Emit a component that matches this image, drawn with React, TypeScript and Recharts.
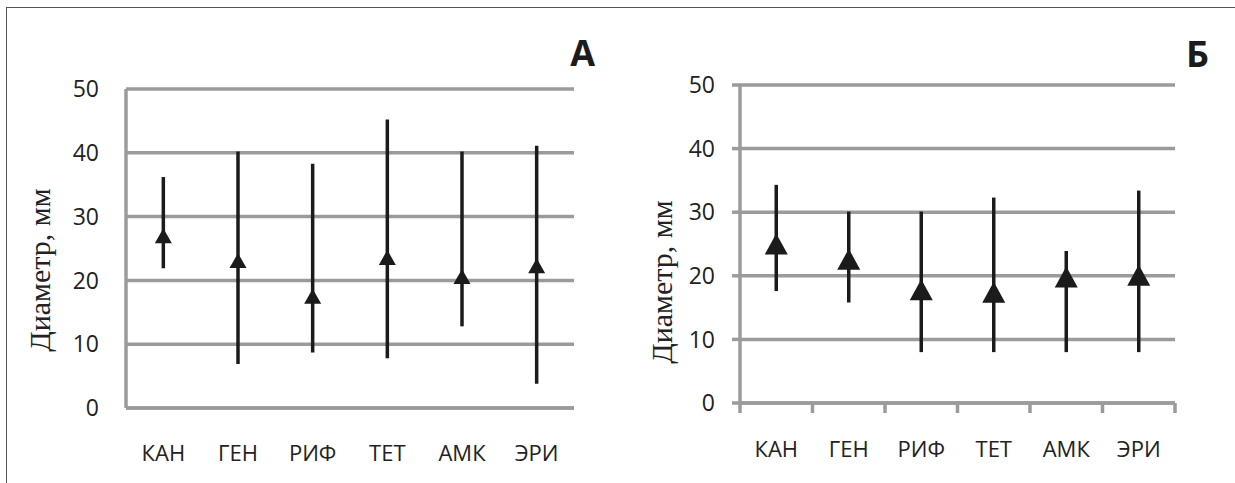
import React from 'react';
import { ScatterChart, Scatter, ErrorBar, XAxis, YAxis, CartesianGrid } from 'recharts';

// ---- data ----
const categories = ['КАН', 'ГЕН', 'РИФ', 'ТЕТ', 'АМК', 'ЭРИ'];

const meanA = [27.0, 23.1, 17.5, 23.6, 20.6, 22.3];
const minA = [21.9, 6.9, 8.7, 7.8, 12.8, 3.8];
const maxA = [36.2, 40.2, 38.3, 45.2, 40.2, 41.1];

const meanB = [25.0, 22.6, 17.8, 17.4, 19.8, 20.1];
const minB = [17.6, 15.8, 8.0, 8.0, 8.0, 8.0];
const maxB = [34.3, 30.1, 30.1, 32.3, 23.9, 33.4];

const yTicks = [0, 10, 20, 30, 40, 50];

const GRID = '#9b9b9b';
const INK = '#1b1b1b';
const SANS = '"Open Sans", "Noto Sans", sans-serif';
const SERIF = '"Liberation Serif", "DejaVu Serif", serif';

function buildRows(mean: number[], min: number[], max: number[]) {
  return categories.map((name, i) => ({
    x: i + 0.5,
    name,
    mean: mean[i],
    err: [mean[i] - min[i], max[i] - mean[i]],
  }));
}

// x ticks: band edges (integers) and band centres (halves)
const xTicks = categories.flatMap((_, i) => [i, i + 0.5]).concat(categories.length);

interface PanelProps {
  mean: number[];
  min: number[];
  max: number[];
  width: number;
  top: number;
  right: number;
  axisWidth: number;
  xAxisHeight: number;
  triW: number;
  triH: number;
  edgeTicks: boolean;
  labelOffset: number;
}

function Panel(p: PanelProps) {
  const rows = buildRows(p.mean, p.min, p.max);

  const Triangle = (props: any) => {
    const { cx, cy } = props;
    if (cx == null || cy == null) return null;
    const hw = p.triW / 2;
    const hh = p.triH / 2;
    return (
      <polygon
        points={`${cx},${cy - hh} ${cx + hw},${cy + hh} ${cx - hw},${cy + hh}`}
        fill={INK}
      />
    );
  };

  const XTick = (props: any) => {
    const { x, y, payload } = props;
    const v = payload.value as number;
    if (Number.isInteger(v)) {
      if (!p.edgeTicks) return <g />;
      return <line x1={x} x2={x} y1={y} y2={y + 10} stroke={GRID} strokeWidth={3.5} />;
    }
    return (
      <text
        x={x}
        y={y + p.labelOffset}
        textAnchor="middle"
        dominantBaseline="central"
        fill="#222"
        fontSize={22}
        fontFamily={SANS}
      >
        {categories[Math.floor(v)]}
      </text>
    );
  };

  return (
    <ScatterChart
      width={p.width}
      height={483}
      margin={{ top: p.top, right: p.right, bottom: 0, left: 0 }}
    >
      <CartesianGrid vertical={false} stroke={GRID} strokeWidth={3.5} />
      <XAxis
        type="number"
        dataKey="x"
        domain={[0, categories.length]}
        ticks={xTicks}
        interval={0}
        tick={XTick}
        tickLine={false}
        tickSize={0}
        tickMargin={0}
        height={p.xAxisHeight}
        axisLine={{ stroke: GRID, strokeWidth: 3.5 }}
      />
      <YAxis
        type="number"
        dataKey="mean"
        domain={[0, 50]}
        ticks={yTicks}
        interval={0}
        width={p.axisWidth}
        axisLine={{ stroke: GRID, strokeWidth: 3.5 }}
        tickLine={p.edgeTicks ? { stroke: GRID, strokeWidth: 3.5 } : false}
        tickSize={p.edgeTicks ? 8 : 0}
        tickMargin={p.edgeTicks ? 17 : 27}
        tick={{ fill: '#222', fontSize: 23, fontFamily: SANS }}
      />
      <Scatter data={rows} shape={Triangle} isAnimationActive={false}>
        <ErrorBar
          dataKey="err"
          direction="y"
          width={0}
          stroke={INK}
          strokeWidth={3.5}
          isAnimationActive={false}
        />
      </Scatter>
    </ScatterChart>
  );
}

export default function App() {
  return (
    <div
      style={{
        position: 'absolute',
        left: 0,
        top: 0,
        width: 1235,
        height: 483,
        background: '#fff',
        overflow: 'hidden',
      }}
    >
      <div
        style={{
          position: 'absolute',
          left: 6,
          top: 7,
          width: 1300,
          height: 600,
          borderTop: '1.5px solid #555',
          borderLeft: '1.5px solid #555',
        }}
      />
      <div style={{ position: 'absolute', left: 0, top: 0 }}>
        <Panel
          mean={meanA}
          min={minA}
          max={maxA}
          width={620}
          top={89}
          right={46}
          axisWidth={126}
          xAxisHeight={75}
          triW={17}
          triH={15}
          edgeTicks={false}
          labelOffset={44}
        />
      </div>
      <div style={{ position: 'absolute', left: 620, top: 0 }}>
        <Panel
          mean={meanB}
          min={minB}
          max={maxB}
          width={615}
          top={85}
          right={60}
          axisWidth={120}
          xAxisHeight={80}
          triW={23}
          triH={21}
          edgeTicks={true}
          labelOffset={45}
        />
      </div>
      <svg
        width={1235}
        height={483}
        style={{ position: 'absolute', left: 0, top: 0, pointerEvents: 'none' }}
      >
        <text
          transform="rotate(-90 39 270)"
          x={39}
          y={270}
          textAnchor="middle"
          dominantBaseline="central"
          fontFamily={SERIF}
          fontSize={30}
          fill="#222"
        >
          Диаметр, мм
        </text>
        <text
          transform="rotate(-90 661 282)"
          x={661}
          y={282}
          textAnchor="middle"
          dominantBaseline="central"
          fontFamily={SERIF}
          fontSize={30}
          fill="#222"
        >
          Диаметр, мм
        </text>
        <text x={595} y={66} textAnchor="end" fontFamily={SANS} fontWeight={700} fontSize={36} fill={INK}>
          А
        </text>
        <text x={1209} y={67} textAnchor="end" fontFamily={SANS} fontWeight={700} fontSize={36} fill={INK}>
          Б
        </text>
      </svg>
    </div>
  );
}
